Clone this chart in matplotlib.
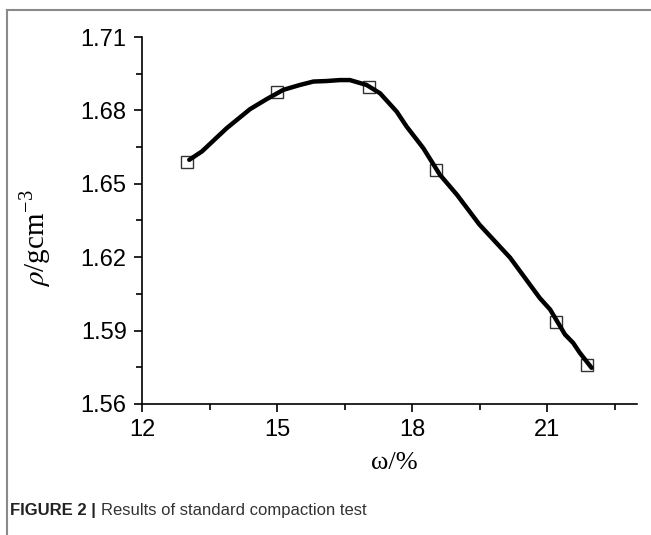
import matplotlib
matplotlib.use("Agg")
import matplotlib.pyplot as plt
from matplotlib.lines import Line2D
from matplotlib.ticker import MultipleLocator

# measured points (water content %, dry density g/cm3)
w_test = [13.0, 15.0, 17.05, 18.53, 21.21, 21.9]
rho_test = [1.6591, 1.6877, 1.6897, 1.6557, 1.5934, 1.576]

# fitted compaction curve
w_fit = [13.05, 13.33, 13.88, 14.4, 14.77, 15.14, 15.51, 15.81, 16.1, 16.4,
         16.62, 16.99, 17.29, 17.66, 17.88, 18.25, 18.62, 19.0, 19.5, 20.18,
         20.62, 20.84, 21.07, 21.4, 21.58, 21.73, 21.99]
rho_fit = [1.6598, 1.6632, 1.6727, 1.6805, 1.6846, 1.6884, 1.6904, 1.6918,
           1.6920, 1.6924, 1.6924, 1.6904, 1.687, 1.6795, 1.6734, 1.6646,
           1.6537, 1.6455, 1.6333, 1.6198, 1.6088, 1.6033, 1.5986, 1.5884,
           1.585, 1.5809, 1.5748]

xticks = [12, 15, 18, 21]
yticks = [1.56, 1.59, 1.62, 1.65, 1.68, 1.71]

W, H = 651, 535
fig = plt.figure(figsize=(W / 100, H / 100), dpi=100)
ax = fig.add_axes([142 / W, 1 - 404 / H, (637 - 142) / W, (404 - 37) / H])

ax.plot(w_test, rho_test, linestyle="none", marker="s", markersize=8,
        mfc="none", mec="#333333", mew=1.0, zorder=2)
ax.plot(w_fit, rho_fit, color="black", lw=3.2, solid_capstyle="round",
        solid_joinstyle="round", zorder=3)

ax.set_xlim(12, 23)
ax.set_ylim(1.56, 1.71)
ax.set_xticks(xticks)
ax.set_yticks(yticks)
ax.set_yticklabels([f"{v:.2f}" for v in yticks])
ax.xaxis.set_minor_locator(MultipleLocator(1.5))
ax.yaxis.set_minor_locator(MultipleLocator(0.015))

for s in ["top", "right"]:
    ax.spines[s].set_visible(False)
for s in ["left", "bottom"]:
    ax.spines[s].set_linewidth(1.2)

ax.tick_params(which="major", direction="out", length=6, width=1.2,
               labelsize=17, pad=5)
ax.tick_params(which="minor", direction="out", length=4, width=1.2)
for lab in ax.get_xticklabels() + ax.get_yticklabels():
    lab.set_fontfamily("Liberation Sans")

fig.text(36 / W, 1 - 238 / H, r"$\rho$/gcm$^{\mathregular{-3}}$",
         rotation=90, ha="center", va="center", fontsize=21,
         family="Liberation Serif", math_fontfamily="stix")
fig.text(394 / W, 1 - 463 / H, "ω/%", ha="center", va="center",
         fontsize=19, family="Liberation Serif")

# caption: bold figure number, then the title in regular weight
cap_y = 1 - 511 / H
bold = fig.text(10 / W, cap_y, "FIGURE 2 |", ha="left", va="center",
                fontsize=12, fontweight="bold", family="Liberation Sans",
                color="#222222")
fig.canvas.draw()
bb = bold.get_window_extent()
fig.text((bb.x1 + 5) / W, cap_y, "Results of standard compaction test",
         ha="left", va="center", fontsize=12, family="Liberation Sans",
         color="#333333")

# page frame
frame = "#8a8a8a"
fig.add_artist(Line2D([7 / W, 7 / W], [0, 1 - 10 / H], color=frame, lw=1.5))
fig.add_artist(Line2D([7 / W, 1], [1 - 10 / H, 1 - 10 / H], color=frame, lw=1.5))

fig.savefig("out.png", dpi=100)
